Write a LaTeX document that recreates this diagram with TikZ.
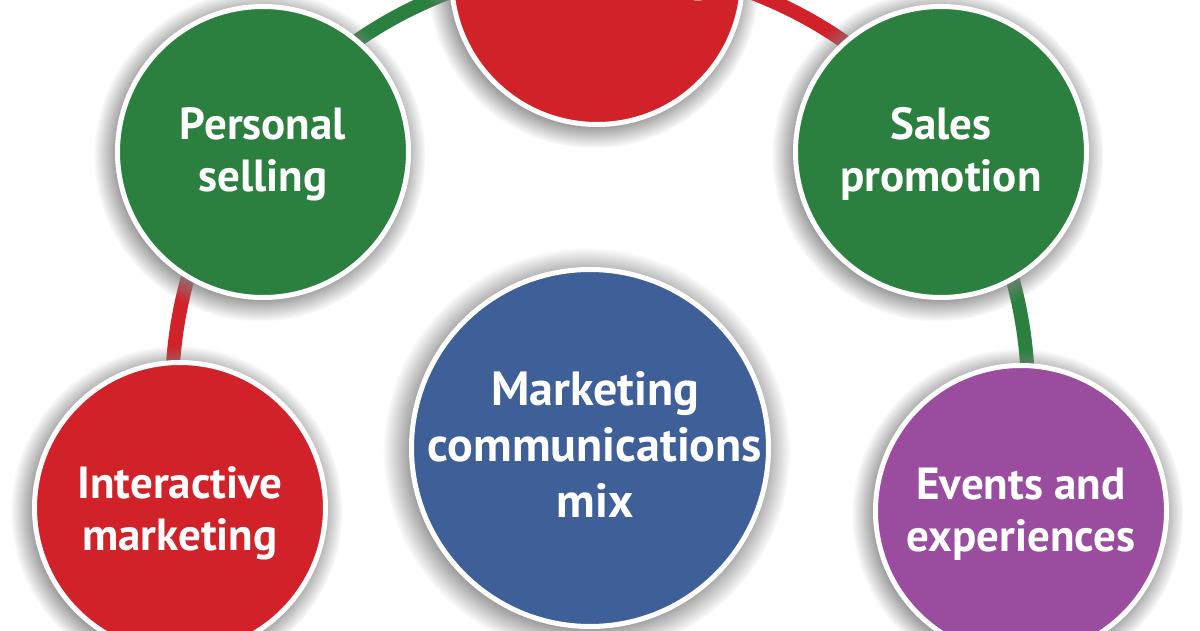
\documentclass[tikz,border=0pt]{standalone}
\usepackage{fontspec}
\setmainfont{PT Sans}
\usetikzlibrary{shadows}
\definecolor{mixgreen}{HTML}{2B803F}
\definecolor{mixred}{HTML}{D1222A}
\definecolor{mixblue}{HTML}{3E5F98}
\definecolor{mixpurple}{HTML}{9A4D9E}
\begin{document}
\begin{tikzpicture}[x=1pt,y=1pt,
    disc/.style={circle,draw=white,line width=5pt,inner sep=0pt,
                 minimum size=291pt,
                 circular drop shadow={shadow xshift=-3pt,shadow yshift=-3pt,
                                       shadow scale=1.14,opacity=.85}},
    lbl/.style={text=white,font=\bfseries\fontsize{45}{52}\selectfont,align=center},
    band/.style={line width=14pt}]
  \useasboundingbox (0,0) rectangle (1200,630);
  % ring behind the discs
  \coordinate (ring) at (600,237);
  \path (ring) ++(195:428) coordinate (r-im)
        (ring) ++(144:428) coordinate (r-ps)
        (ring) ++(90:428)  coordinate (r-adv)
        (ring) ++(35:428)  coordinate (r-sp);
  \draw[band,mixred]   (r-im)  arc[start angle=195,end angle=144,radius=428];
  \draw[band,mixgreen] (r-ps)  arc[start angle=144,end angle=90,radius=428];
  \draw[band,mixred]   (r-adv) arc[start angle=90,end angle=35,radius=428];
  \draw[band,mixgreen] (r-sp)  arc[start angle=35,end angle=-16,radius=428];
  % discs
  \node[disc,fill=mixred]    (adv) at (597,651) {};
  \node[disc,fill=mixgreen]  (ps)  at (263,478) {};
  \node[disc,fill=mixgreen]  (sp)  at (941,478) {};
  \node[disc,fill=mixred]    (im)  at (180,122) {};
  \node[disc,fill=mixpurple] (ev)  at (1021,119) {};
  \node[disc,fill=mixblue,minimum size=357pt] (mc) at (590,182) {};
  % labels
  \node[lbl,anchor=base] (adv-t) at (602,638) {Advertising};
  \node[lbl,yshift=-2pt] (ps-t) at (ps) {Personal\\selling};
  \node[lbl,yshift=-2pt] (sp-t) at (sp) {Sales\\promotion};
  \node[lbl,yshift=-5pt] (im-t) at (im) {Interactive\\marketing};
  \node[lbl,yshift=-3pt] (ev-t) at (ev) {Events and\\experiences};
  \node[lbl,font=\bfseries\fontsize{48}{56}\selectfont,xshift=5pt,yshift=4pt] (mc-t) at (mc)
    {Marketing\\communications\\mix};
\end{tikzpicture}
\end{document}
